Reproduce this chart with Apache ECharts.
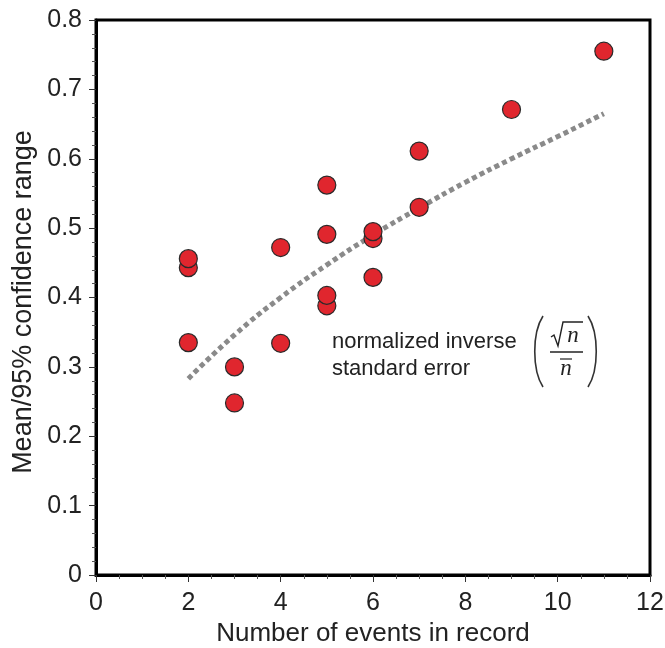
<!DOCTYPE html>
<html>
<head>
<meta charset="utf-8">
<script src="https://cdn.jsdelivr.net/npm/echarts@6/dist/echarts.min.js"></script>
<style>html,body{margin:0;padding:0;background:#fff;}#c{width:665px;height:648px;}</style>
</head>
<body>
<div id="c"></div>
<script>
const eventsX = [2, 2, 2, 3, 3, 4, 4, 5, 5, 5, 5, 6, 6, 6, 7, 7, 9, 11];
const ratioY = [0.335, 0.443, 0.456, 0.248, 0.300, 0.334, 0.472, 0.388, 0.403, 0.491, 0.562, 0.429, 0.485, 0.495, 0.530, 0.611, 0.671, 0.755];
const curveX = [2, 3, 4, 5, 6, 7, 8, 9, 10, 11];
const curveY = [0.283, 0.346, 0.400, 0.447, 0.490, 0.529, 0.566, 0.600, 0.632, 0.665];
const xTicks = [0, 2, 4, 6, 8, 10, 12];
const yTicks = [0, 0.1, 0.2, 0.3, 0.4, 0.5, 0.6, 0.7, 0.8];

const FONT = 'Liberation Sans, Arial, Helvetica, sans-serif';
const chart = echarts.init(document.getElementById('c'), null, {renderer: 'canvas'});

const pts = eventsX.map((x, i) => [x, ratioY[i]]);
const curve = curveX.map((x, i) => [x, curveY[i]]);

chart.setOption({
  animation: false,
  backgroundColor: '#fff',
  grid: {left: 96, right: 15, top: 20, bottom: 73, show: true, borderColor: '#000', borderWidth: 3, backgroundColor: 'transparent',
    containLabel: false, outerBoundsMode: 'none'},
  xAxis: {
    type: 'value', min: 0, max: 12, interval: 2,
    name: 'Number of events in record', nameLocation: 'middle', nameGap: 44,
    nameTextStyle: {fontFamily: FONT, fontSize: 26, color: '#222'},
    axisLine: {show: true, onZero: false, lineStyle: {color: '#000', width: 3}},
    axisTick: {show: true, inside: false, length: 7, lineStyle: {color: '#333', width: 1}},
    minorTick: {show: true, splitNumber: 4, length: 4, lineStyle: {color: '#555', width: 1}},
    splitLine: {show: false},
    axisLabel: {fontFamily: FONT, fontSize: 25, color: '#222', margin: 16,
      formatter: v => xTicks.includes(v) ? String(v) : ''}
  },
  yAxis: {
    type: 'value', min: 0, max: 0.8, interval: 0.1,
    axisLine: {show: true, onZero: false, lineStyle: {color: '#000', width: 3}},
    axisTick: {show: true, inside: false, length: 7, lineStyle: {color: '#333', width: 1}},
    minorTick: {show: true, splitNumber: 5, length: 4, lineStyle: {color: '#555', width: 1}},
    splitLine: {show: false},
    axisLabel: {fontFamily: FONT, fontSize: 25, color: '#222', margin: 14,
      formatter: v => { const t = yTicks.find(y => Math.abs(y - v) < 1e-9); return t === undefined ? '' : (t === 0 ? '0' : t.toFixed(1)); }}
  },
  series: [
    {
      type: 'line', data: curve, smooth: true, symbol: 'none', z: 2,
      lineStyle: {color: '#8a8a8a', width: 5, type: [5, 3.5], cap: 'butt'}
    },
    {
      type: 'scatter', data: pts, symbol: 'circle', symbolSize: 18, z: 3,
      itemStyle: {color: '#e0262e', borderColor: '#2a2a2a', borderWidth: 1.2, opacity: 1}
    }
  ],
  graphic: [
    {type: 'text', x: 24, y: 302, rotation: Math.PI / 2,
      style: {text: 'Mean/95% confidence range', fontFamily: FONT, fontSize: 27, fill: '#222', align: 'center', verticalAlign: 'middle'}},
    {type: 'text', x: 332, y: 342,
      style: {text: 'normalized inverse', fontFamily: FONT, fontSize: 22, fill: '#222', align: 'left', verticalAlign: 'middle'}},
    {type: 'text', x: 332, y: 369,
      style: {text: 'standard error', fontFamily: FONT, fontSize: 22, fill: '#222', align: 'left', verticalAlign: 'middle'}},
    {type: 'bezierCurve', shape: {x1: 543, y1: 316, x2: 543, y2: 387, cpx1: 532, cpy1: 333, cpx2: 532, cpy2: 370},
      style: {stroke: '#333', lineWidth: 1.6, fill: null}},
    {type: 'bezierCurve', shape: {x1: 588, y1: 316, x2: 588, y2: 387, cpx1: 599, cpy1: 333, cpx2: 599, cpy2: 370},
      style: {stroke: '#333', lineWidth: 1.6, fill: null}},
    {type: 'polyline', shape: {points: [[551, 337], [554, 335], [558, 346], [563, 322], [583, 322]]},
      style: {stroke: '#222', lineWidth: 1.4, fill: null}},
    {type: 'text', x: 573, y: 336,
      style: {text: 'n', fontFamily: 'Liberation Serif, serif', fontStyle: 'italic', fontSize: 23, fill: '#222', align: 'center', verticalAlign: 'middle'}},
    {type: 'line', shape: {x1: 550, y1: 352, x2: 583, y2: 352}, style: {stroke: '#222', lineWidth: 1.5}},
    {type: 'line', shape: {x1: 560, y1: 359, x2: 572, y2: 359}, style: {stroke: '#222', lineWidth: 1.2}},
    {type: 'text', x: 566, y: 369,
      style: {text: 'n', fontFamily: 'Liberation Serif, serif', fontStyle: 'italic', fontSize: 23, fill: '#222', align: 'center', verticalAlign: 'middle'}}
  ]
});
</script>
</body>
</html>
